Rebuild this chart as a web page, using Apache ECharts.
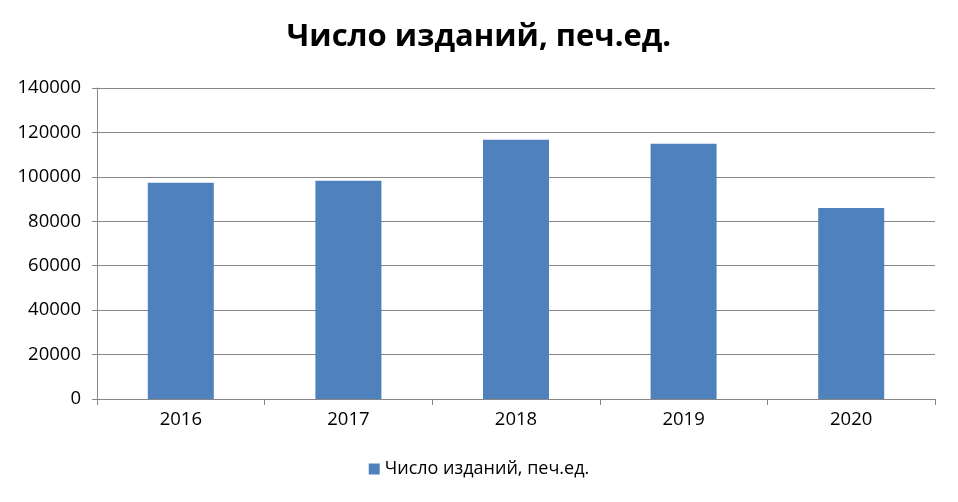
<!DOCTYPE html>
<html><head><meta charset="utf-8">
<script src="https://cdn.jsdelivr.net/npm/echarts@6/dist/echarts.min.js"></script>
<style>html,body{margin:0;padding:0;background:#fff}#c{width:958px;height:502px}</style>
</head><body><div id="c"></div>
<script>
const categories = ['2016', '2017', '2018', '2019', '2020'];
const values = [97300, 98200, 116700, 114900, 86000];
const seriesName = 'Число изданий, печ.ед.';
const titleText = 'Число изданий, печ.ед.';

const chart = echarts.init(document.getElementById('c'));
const font = '"Open Sans", "Noto Sans", sans-serif';
chart.setOption({
  animation: false,
  title: {
    text: titleText, left: 'center', top: 17,
    textStyle: {fontFamily: font, fontSize: 31, fontWeight: 'bold', color: '#000'}
  },
  legend: {
    bottom: 19, left: 'center', itemWidth: 11, itemHeight: 11, itemGap: 5,
    icon: 'rect',
    textStyle: {fontFamily: font, fontSize: 18, color: '#000'},
    data: [seriesName]
  },
  grid: {left: 97, right: 23, top: 88, bottom: 103, containLabel: false},
  xAxis: {
    type: 'category', data: categories, boundaryGap: true,
    axisLine: {lineStyle: {color: '#868686', width: 1}},
    axisTick: {show: true, length: 6, alignWithLabel: false, lineStyle: {color: '#868686'}},
    axisLabel: {fontFamily: font, fontSize: 18.5, color: '#000', margin: 11}
  },
  yAxis: {
    type: 'value', min: 0, max: 140000, interval: 20000,
    axisLine: {show: true, lineStyle: {color: '#868686', width: 1}},
    axisTick: {show: true, length: 5, lineStyle: {color: '#868686'}},
    axisLabel: {fontFamily: font, fontSize: 18.5, color: '#000', margin: 16,
      formatter: v => String(v)},
    splitLine: {lineStyle: {color: '#868686', width: 1}}
  },
  series: [{
    name: seriesName, type: 'bar', data: values, barWidth: 66,
    itemStyle: {color: '#4f81bd'}
  }]
});
</script></body></html>
